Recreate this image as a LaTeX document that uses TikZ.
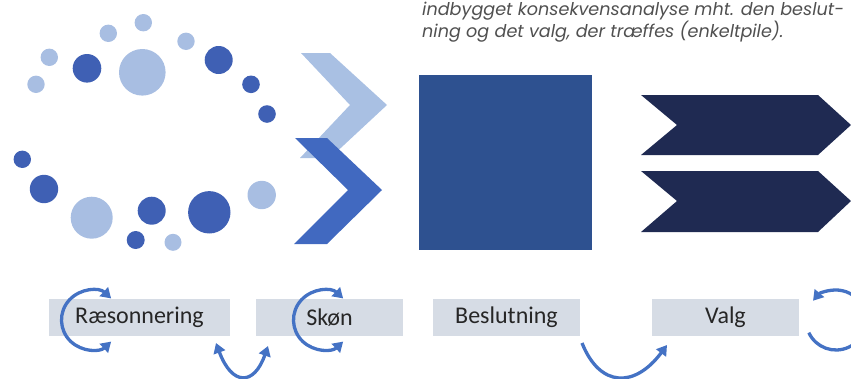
\documentclass[tikz,border=0pt]{standalone}
\usepackage{fontspec}
\usetikzlibrary{arrows.meta}
\newfontfamily\carlito{Carlito}
\newfontfamily\capfont{Poppins}
\definecolor{lightdot}{HTML}{A8BEE2}
\definecolor{darkdot}{HTML}{3F60B4}
\definecolor{chevlight}{HTML}{A9C0E3}
\definecolor{chevdark}{HTML}{4169C0}
\definecolor{squareblue}{HTML}{2E5190}
\definecolor{navy}{HTML}{1F2A52}
\definecolor{boxgray}{HTML}{D6DCE5}
\definecolor{textgray}{HTML}{262626}
\definecolor{captiongray}{HTML}{505050}
\definecolor{arcblue}{HTML}{4472C4}
\tikzset{
  ldot/.style={fill=lightdot, draw=none},
  ddot/.style={fill=darkdot, draw=none},
  stagebox/.style={fill=boxgray, draw=none, minimum height=37pt, inner sep=0pt,
    text=textgray, font=\carlito\fontsize{24}{28}\selectfont},
  loopline/.style={draw=arcblue, line width=3.3pt},
  tipA/.style={-{Triangle[length=10pt,width=12pt]}},
  tipB/.style={{Triangle[length=10pt,width=12pt]}-{Triangle[length=10pt,width=12pt]}},
}
\begin{document}
\begin{tikzpicture}[x=1pt,y=1pt]
\useasboundingbox (0,0) rectangle (851,-378);
% caption
\node[anchor=north west, inner sep=0pt, align=left, text=captiongray,
  font=\capfont\itshape\fontsize{17.6}{21}\selectfont] (cap) at (422,-2)
  {indbygget konsekvensanalyse mht. den beslut-\\ning og det valg, der træffes (enkeltpile).};
% dots
\fill[ldot] (143.3,-22.7) circle (8.7);
\fill[ldot] (108.3,-33.3) circle (8.7);
\fill[ldot] (186,-41.3) circle (8.7);
\fill[ldot] (49.3,-57.3) circle (8.7);
\fill[ddot] (87,-68.3) circle (14.3);
\fill[ldot] (142.3,-72.3) circle (23.3);
\fill[ddot] (218.7,-60) circle (14);
\fill[ldot] (36,-84.3) circle (8.7);
\fill[ddot] (251,-84.3) circle (8.8);
\fill[ddot] (267,-114) circle (8.8);
\fill[ddot] (22.3,-159.3) circle (8.7);
\fill[ddot] (44,-189) circle (14.2);
\fill[ldot] (91.7,-217.7) circle (21);
\fill[ddot] (151.7,-210.7) circle (14);
\fill[ddot] (209.3,-212.3) circle (21.2);
\fill[ldot] (261.7,-195) circle (14.2);
\fill[ddot] (135.7,-240) circle (9);
\fill[ldot] (173,-242.3) circle (8.5);
% chevrons
\fill[chevlight] (301,-53) -- (330,-53) -- (387,-105) -- (330,-158) -- (300,-158) -- (350,-105) -- cycle;
\fill[chevdark] (295,-138) -- (327,-138) -- (382,-190) -- (327,-244) -- (294,-244) -- (348,-190) -- cycle;
% square
\fill[squareblue] (419,-75) rectangle (592,-250);
% navy arrows
\fill[navy] (641,-95) -- (818,-95) -- (851,-125) -- (818,-155) -- (641,-155) -- (677,-125) -- cycle;
\fill[navy] (641,-171) -- (818,-171) -- (851,-201) -- (818,-232) -- (641,-232) -- (677,-201) -- cycle;
% stage boxes
\node[stagebox, minimum width=181pt] (raes) at (139.5,-317.5) {Ræsonnering};
\node[stagebox, minimum width=147pt] (skon) at (329.5,-317.5) {Skøn};
\node[stagebox, minimum width=147pt] (besl) at (506.5,-317.5) {Beslutning};
\node[stagebox, minimum width=147pt] (valg) at (725.5,-317.5) {Valg};
% loop centres and ends
\coordinate (rc) at (91,-320);
\coordinate (sc) at (323,-320);
\coordinate (vc) at (836,-320);
\coordinate (ul) at (216,-343);
\coordinate (ur) at (268,-346);
\coordinate (bl) at (582,-343);
\coordinate (br) at (667,-345);
% loops
\draw[loopline, tipB] ([shift={(47:29.5pt)}]rc) arc[start angle=47, end angle=313, radius=29.5pt];
\draw[loopline, tipB] ([shift={(47:29.5pt)}]sc) arc[start angle=47, end angle=313, radius=29.5pt];
\draw[loopline, tipB] (ul) .. controls (232,-386) and (254,-386) .. (ur);
\draw[loopline, tipA] (bl) .. controls (600,-388) and (635,-388) .. (br);
\draw[loopline, tipA] ([shift={(205:30pt)}]vc) arc[start angle=205, end angle=500, radius=30pt];
\end{tikzpicture}
\end{document}
